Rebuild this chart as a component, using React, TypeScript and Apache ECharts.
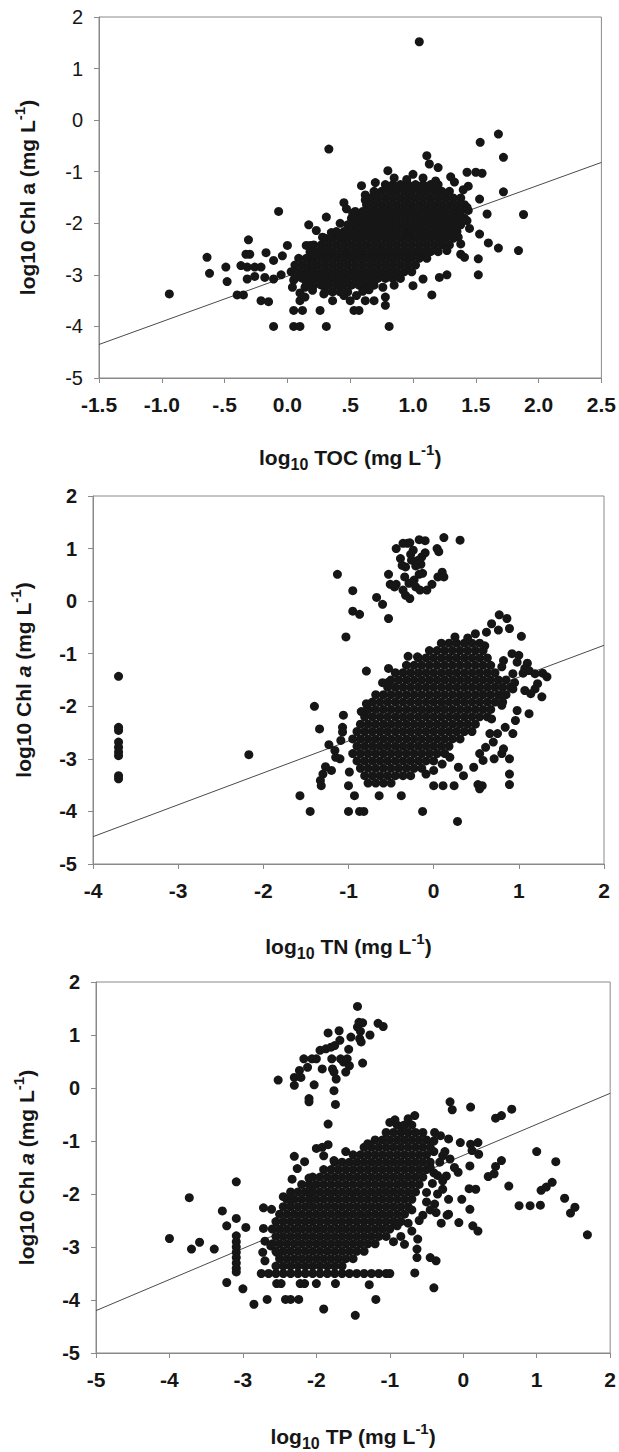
import React, { useEffect, useRef } from "react";
import * as echarts from "echarts";

type P = [number, number];
type Row = [number, number[]];

// ---------- axis tick labels ----------
const tocTickLabels = ["-1.5", "-1.0", "-.5", "0.0", ".5", "1.0", "1.5", "2.0", "2.5"];
const tnTickLabels = ["-4", "-3", "-2", "-1", "0", "1", "2"];
const tpTickLabels = ["-5", "-4", "-3", "-2", "-1", "0", "1", "2"];
const chlTickLabels = ["-5", "-4", "-3", "-2", "-1", "0", "1", "2"];

// ---------- regression lines ----------
const tocFit: P[] = [[-1.5, -4.35], [2.5, -0.82]];
const tnFit: P[] = [[-4, -4.48], [2, -0.84]];
const tpFit: P[] = [[-5, -4.2], [2, -0.1]];

// ---------- TOC panel ----------
const tocScatter: P[] = [
  [1.05, 1.52], [0.33, -0.56], [1.68, -0.27], [1.535, -0.43], [1.72, -0.72], [1.72, -1.39], [1.88, -1.83],
  [1.84, -2.53], [1.68, -2.48], [1.6, -2.38], [1.59, -1.82], [1.53, -2.21], [1.52, -2.69], [1.52, -3.0],
  [1.53, -1.53], [1.5, -1.01], [1.55, -1.03], [1.43, -1.01], [1.44, -1.28], [1.15, -3.39], [0.81, -4.0],
  [-0.07, -1.77], [-0.94, -3.37], [-0.64, -2.66], [-0.62, -2.97], [-0.49, -2.85], [-0.48, -3.13],
  [-0.4, -3.39], [-0.35, -3.39], [-0.31, -2.32], [-0.33, -2.6], [-0.3, -2.6], [-0.37, -2.82], [-0.32, -2.85],
  [-0.26, -2.85], [-0.32, -3.08], [-0.26, -3.03], [-0.21, -3.5], [-0.15, -3.52], [-0.17, -2.57],
  [-0.21, -2.85], [-0.11, -2.72], [-0.18, -3.05], [-0.11, -3.08], [-0.05, -3.0], [-0.04, -2.63],
  [0.0, -2.43], [-0.11, -4.0], [0.05, -4.0], [0.1, -4.0], [0.05, -3.69], [0.12, -3.69], [0.26, -3.69],
  [0.31, -4.0], [0.04, -3.24], [0.1, -3.35], [0.14, -3.43], [0.14, -3.24], [0.1, -3.5], [0.36, -3.5],
  [0.29, -3.37], [0.4, -3.08], [0.5, -3.5], [0.53, -3.69], [0.57, -3.69], [0.55, -3.4], [0.62, -3.5],
  [0.69, -3.5], [0.65, -3.29], [0.76, -3.24], [0.78, -3.43], [0.78, -3.59], [1.0, -3.21], [1.08, -3.08],
  [1.21, -3.05], [1.27, -3.0], [1.38, -2.6], [1.41, -2.66], [1.27, -2.53], [1.36, -2.27], [1.38, -2.4],
  [1.43, -1.95], [1.44, -1.75], [1.43, -1.69], [0.8, -0.98], [1.11, -0.69], [1.13, -0.85], [1.2, -0.92],
  [1.0, -1.05], [1.3, -1.1], [1.33, -1.2], [0.45, -1.6], [0.47, -1.72], [0.59, -1.27], [0.62, -1.45],
  [0.17, -2.03], [0.31, -1.88], [0.23, -2.14], [0.28, -2.27], [0.15, -2.43], [0.18, -2.43], [0.23, -2.6],
  [0.2, -2.79], [0.7, -1.21],
  [0.85, -1.12], [0.95, -1.15], [1.08, -1.12], [1.18, -1.18], [0.62, -1.55], [0.52, -1.8], [0.42, -2.0],
  [0.35, -2.18], [1.4, -1.35], [1.45, -2.1], [0.45, -3.4], [0.6, -3.32], [0.85, -3.2], [0.2, -3.3], [0.05, -3.1],
];
const tocCoreRows: Row[] = [
  [-1.25, [0.78, 0.84, 0.9, 0.96, 1.02, 1.08, 1.14, 1.2]],
  [-1.38, [0.69, 0.75, 0.81, 0.87, 0.93, 0.99, 1.05, 1.11, 1.17, 1.23, 1.29]],
  [-1.51, [0.66, 0.72, 0.78, 0.84, 0.9, 0.96, 1.02, 1.08, 1.14, 1.2, 1.26, 1.32, 1.38]],
  [-1.64, [0.63, 0.69, 0.75, 0.81, 0.87, 0.93, 0.99, 1.05, 1.11, 1.17, 1.23, 1.29, 1.35, 1.41]],
  [-1.77, [0.54, 0.6, 0.66, 0.72, 0.78, 0.84, 0.9, 0.96, 1.02, 1.08, 1.14, 1.2, 1.26, 1.32, 1.38]],
  [-1.9, [0.51, 0.57, 0.63, 0.69, 0.75, 0.81, 0.87, 0.93, 0.99, 1.05, 1.11, 1.17, 1.23, 1.29, 1.35, 1.41]],
  [-2.03, [0.48, 0.54, 0.6, 0.66, 0.72, 0.78, 0.84, 0.9, 0.96, 1.02, 1.08, 1.14, 1.2, 1.26, 1.32, 1.38]],
  [-2.16, [0.39, 0.45, 0.51, 0.57, 0.63, 0.69, 0.75, 0.81, 0.87, 0.93, 0.99, 1.05, 1.11, 1.17, 1.23, 1.29, 1.35]],
  [-2.29, [0.3, 0.36, 0.42, 0.48, 0.54, 0.6, 0.66, 0.72, 0.78, 0.84, 0.9, 0.96, 1.02, 1.08, 1.14, 1.2, 1.26, 1.32]],
  [-2.42, [0.21, 0.27, 0.33, 0.39, 0.45, 0.51, 0.57, 0.63, 0.69, 0.75, 0.81, 0.87, 0.93, 0.99, 1.05, 1.11, 1.17, 1.23, 1.29]],
  [-2.55, [0.18, 0.24, 0.3, 0.36, 0.42, 0.48, 0.54, 0.6, 0.66, 0.72, 0.78, 0.84, 0.9, 0.96, 1.02, 1.08, 1.14, 1.2]],
  [-2.68, [0.09, 0.15, 0.21, 0.27, 0.33, 0.39, 0.45, 0.51, 0.57, 0.63, 0.69, 0.75, 0.81, 0.87, 0.93, 0.99, 1.05, 1.11]],
  [-2.81, [0.06, 0.12, 0.18, 0.24, 0.3, 0.36, 0.42, 0.48, 0.54, 0.6, 0.66, 0.72, 0.78, 0.84, 0.9, 0.96, 1.02]],
  [-2.94, [0.03, 0.09, 0.15, 0.21, 0.27, 0.33, 0.39, 0.45, 0.51, 0.57, 0.63, 0.69, 0.75, 0.81, 0.87, 0.93, 0.99]],
  [-3.07, [0.06, 0.12, 0.18, 0.24, 0.3, 0.36, 0.42, 0.48, 0.54, 0.6, 0.66, 0.72, 0.78, 0.84, 0.9]],
  [-3.2, [0.15, 0.21, 0.27, 0.33, 0.39, 0.45, 0.51, 0.57, 0.63, 0.69]],
  [-3.33, [0.3, 0.36, 0.42, 0.48]],
];

// ---------- TN panel ----------
const tnScatter: P[] = [
  [-3.7, -1.43], [-3.7, -2.4], [-3.7, -2.46], [-3.7, -2.68], [-3.7, -2.78], [-3.7, -2.87], [-3.7, -2.94],
  [-3.7, -3.32], [-3.7, -3.38], [-2.17, -2.92],
  [-1.13, 0.51], [-0.95, 0.2], [-0.95, -0.19], [-0.87, -0.25], [-1.03, -0.68], [-0.67, 0.07], [-0.6, -0.06],
  [-0.53, -0.33], [-0.53, 0.51], [-0.51, 0.32], [-0.44, 0.32], [-0.44, 1.0], [-0.37, 0.68], [-0.36, 1.1],
  [-0.31, 1.1], [-0.28, 1.11], [-0.39, 0.81], [-0.33, 0.65], [-0.26, 0.78], [-0.34, 0.46], [-0.29, 0.34],
  [-0.36, 0.21], [-0.33, 0.11], [-0.28, 0.05], [-0.23, 0.4], [-0.21, 0.27], [-0.17, 0.51], [-0.15, 0.7],
  [-0.14, 0.84], [-0.1, 0.92], [-0.17, 1.17], [-0.1, 1.15], [-0.13, 0.53], [-0.16, 0.21], [-0.08, 0.21],
  [-0.02, 0.32], [0.05, 0.46], [0.04, 1.0], [0.06, 0.94], [0.1, 0.55], [0.12, 0.46], [0.12, 1.21],
  [0.31, 1.16], [-0.21, 0.67], [-0.24, 0.97], [-0.27, 0.89], [-0.46, 0.27], [-0.18, 0.78],
  [-1.4, -2.0], [-1.34, -2.43], [-1.23, -2.73], [-1.06, -2.17], [-1.07, -2.4], [-1.07, -2.49], [-1.09, -2.65],
  [-1.1, -3.0], [-1.16, -2.84], [-1.27, -3.15], [-1.3, -3.29], [-1.33, -3.41], [-1.32, -3.51], [-1.2, -3.22],
  [-1.15, -2.97], [-0.99, -3.25], [-1.0, -3.51], [-0.93, -3.7], [-1.57, -3.7], [-1.45, -4.0], [-1.0, -4.0],
  [-0.87, -4.0], [-0.82, -4.0], [-0.64, -3.7], [-0.38, -3.7], [-0.13, -4.0], [0.28, -4.19], [-0.79, -1.33],
  [-0.79, -1.95], [-0.79, -2.08], [-0.53, -1.28], [-0.53, -1.54], [-0.19, -1.06], [0.0, -3.51], [0.11, -3.51],
  [0.24, -3.51], [0.52, -3.49], [0.57, -3.51], [0.54, -3.57], [0.89, -3.49], [0.89, -3.29], [0.89, -3.0],
  [0.71, -3.0], [0.8, -2.9], [0.82, -2.81],
  [0.77, -0.26], [0.86, -0.33], [0.89, -0.52], [0.68, -0.43], [0.76, -0.55], [0.62, -0.59], [0.49, -0.62],
  [1.03, -0.67], [0.92, -1.0], [1.0, -1.03], [0.82, -1.13], [0.98, -1.16], [1.1, -1.18], [1.07, -1.28],
  [0.93, -1.38], [1.05, -1.37], [1.12, -1.32], [1.19, -1.38], [0.93, -1.67], [1.07, -1.7], [1.14, -1.76],
  [1.19, -1.67], [1.22, -1.57], [1.28, -1.37], [1.33, -1.44], [1.27, -1.82], [1.12, -2.14], [0.98, -2.08],
  [0.96, -2.27], [0.84, -2.4], [0.75, -2.52], [0.7, -2.68], [0.66, -2.52], [0.93, -2.52], [0.68, -2.24],
  [0.8, -1.98], [0.78, -1.79], [0.61, -2.78], [0.54, -2.9], [0.58, -3.03], [0.47, -3.16], [0.35, -3.32],
  [0.29, -3.16], [0.19, -2.97], [0.1, -3.1], [0.0, -3.22], [-0.09, -3.29],
  [0.25, -0.68], [0.4, -0.7], [0.6, -0.85], [-0.3, -1.05], [-0.6, -1.55], [-0.85, -2.1], [0.8, -1.25], [0.95, -1.55],
];
const tnCoreRows: Row[] = [
  [-0.8, [0.09, 0.18, 0.27, 0.36, 0.45, 0.54]],
  [-0.94, [-0.05, 0.04, 0.13, 0.22, 0.31, 0.4, 0.49, 0.58]],
  [-1.08, [-0.18, -0.09, 0, 0.09, 0.18, 0.27, 0.36, 0.45, 0.54, 0.63]],
  [-1.22, [-0.32, -0.23, -0.14, -0.05, 0.04, 0.13, 0.22, 0.31, 0.4, 0.49, 0.58, 0.67]],
  [-1.36, [-0.45, -0.36, -0.27, -0.18, -0.09, 0, 0.09, 0.18, 0.27, 0.36, 0.45, 0.54, 0.63, 0.72]],
  [-1.5, [-0.5, -0.41, -0.32, -0.23, -0.14, -0.05, 0.04, 0.13, 0.22, 0.31, 0.4, 0.49, 0.58, 0.67, 0.76, 0.85]],
  [-1.64, [-0.54, -0.45, -0.36, -0.27, -0.18, -0.09, 0, 0.09, 0.18, 0.27, 0.36, 0.45, 0.54, 0.63, 0.72, 0.81, 0.9]],
  [-1.78, [-0.68, -0.59, -0.5, -0.41, -0.32, -0.23, -0.14, -0.05, 0.04, 0.13, 0.22, 0.31, 0.4, 0.49, 0.58, 0.67, 0.76, 0.85]],
  [-1.92, [-0.72, -0.63, -0.54, -0.45, -0.36, -0.27, -0.18, -0.09, 0, 0.09, 0.18, 0.27, 0.36, 0.45, 0.54, 0.63, 0.72, 0.81]],
  [-2.06, [-0.77, -0.68, -0.59, -0.5, -0.41, -0.32, -0.23, -0.14, -0.05, 0.04, 0.13, 0.22, 0.31, 0.4, 0.49, 0.58, 0.67]],
  [-2.2, [-0.81, -0.72, -0.63, -0.54, -0.45, -0.36, -0.27, -0.18, -0.09, 0, 0.09, 0.18, 0.27, 0.36, 0.45, 0.54, 0.63]],
  [-2.34, [-0.86, -0.77, -0.68, -0.59, -0.5, -0.41, -0.32, -0.23, -0.14, -0.05, 0.04, 0.13, 0.22, 0.31, 0.4, 0.49]],
  [-2.48, [-0.9, -0.81, -0.72, -0.63, -0.54, -0.45, -0.36, -0.27, -0.18, -0.09, 0, 0.09, 0.18, 0.27, 0.36, 0.45]],
  [-2.62, [-0.95, -0.86, -0.77, -0.68, -0.59, -0.5, -0.41, -0.32, -0.23, -0.14, -0.05, 0.04, 0.13, 0.22, 0.31]],
  [-2.76, [-0.9, -0.81, -0.72, -0.63, -0.54, -0.45, -0.36, -0.27, -0.18, -0.09, 0, 0.09, 0.18]],
  [-2.9, [-0.95, -0.86, -0.77, -0.68, -0.59, -0.5, -0.41, -0.32, -0.23, -0.14, -0.05, 0.04, 0.13]],
  [-3.04, [-0.9, -0.81, -0.72, -0.63, -0.54, -0.45, -0.36, -0.27, -0.18, -0.09, 0]],
  [-3.18, [-0.86, -0.77, -0.68, -0.59, -0.5, -0.41, -0.32, -0.23, -0.14]],
  [-3.32, [-0.81, -0.72, -0.63, -0.54, -0.45, -0.36, -0.27]],
  [-3.46, [-0.77, -0.68, -0.59, -0.5]],
];

// ---------- TP panel ----------
const tpScatter: P[] = [
  [-4.0, -2.84], [-3.73, -2.07], [-3.7, -3.04], [-3.59, -2.91], [-3.39, -3.04], [-3.28, -2.32], [-3.22, -2.6],
  [-3.22, -3.67], [-3.09, -1.77], [-3.09, -2.46], [-3.09, -2.79], [-3.09, -2.9], [-3.09, -3.0], [-3.09, -3.1],
  [-3.09, -3.2], [-3.09, -3.3], [-3.09, -3.4], [-3.09, -3.47], [-3.0, -3.79], [-2.96, -2.63], [-2.85, -4.08],
  [-2.67, -3.99], [-2.42, -3.99], [-2.35, -3.99], [-2.24, -3.99], [-1.9, -4.17], [-1.47, -4.29], [-1.19, -3.99],
  [-1.28, -3.71], [-0.4, -3.77], [-0.37, -3.26], [-0.45, -3.2], [-0.66, -3.49], [-0.63, -3.2], [-0.63, -3.04],
  [-2.54, -3.69], [-2.48, -3.69], [-2.22, -3.69], [-2.16, -3.69], [-2.0, -3.69], [-1.74, -3.69],
  [-2.73, -3.1], [-2.7, -3.26],
  [-2.52, 0.15], [-2.3, 0.2], [-2.3, 0.05], [-2.23, 0.33], [-2.21, 0.2], [-2.17, 0.55], [-2.12, 0.39],
  [-2.06, 0.55], [-2.03, 0.06], [-2.1, -0.2], [-2.1, -0.26], [-2.0, 0.55], [-1.95, 0.71], [-1.92, 0.36],
  [-1.87, 0.74], [-1.84, 1.04], [-1.8, 0.77], [-1.79, 0.55], [-1.78, 0.36], [-1.76, 0.3], [-1.76, -0.05],
  [-1.74, -0.31], [-1.73, 0.17], [-1.69, 1.08], [-1.68, 0.9], [-1.75, 0.8], [-1.67, 0.55], [-1.63, 0.49],
  [-1.6, 0.3], [-1.56, 0.73], [-1.55, 0.42], [-1.58, 0.55], [-1.44, 1.54], [-1.44, 1.15], [-1.42, 1.24],
  [-1.4, 1.07], [-1.39, 0.87], [-1.37, 1.23], [-1.41, 0.93], [-1.27, 1.0], [-1.37, 0.47], [-1.16, 1.22],
  [-1.09, 1.16], [-1.53, 0.96],
  [-1.84, -0.68], [-1.84, -1.07], [-2.0, -1.14], [-2.16, -1.39], [-2.3, -1.29], [-2.26, -1.52], [-2.33, -1.72],
  [-1.9, -1.28], [-1.76, -1.37], [-2.06, -1.85], [-2.09, -2.1], [-2.33, -2.1], [-2.61, -2.29], [-2.72, -2.26],
  [-2.72, -2.65], [-2.7, -2.89], [-2.62, -2.98], [-2.54, -3.1], [-1.92, -1.12],
  [-0.18, -0.26], [-0.15, -0.41], [0.1, -0.36], [0.44, -0.57], [0.52, -0.52], [0.66, -0.4], [-0.2, -0.96],
  [-0.04, -1.03], [0.1, -1.06], [0.2, -1.03], [0.12, -1.18], [0.21, -1.25], [0.09, -1.47], [-0.07, -1.59],
  [-0.23, -1.66], [-0.12, -1.5], [0.44, -1.48], [0.52, -1.37], [0.34, -1.67], [0.42, -1.62], [0.17, -1.91],
  [0.08, -1.9], [-0.02, -2.1], [0.09, -2.29], [0.13, -2.6], [0.2, -2.7], [-0.06, -2.54], [-0.2, -2.38],
  [-0.2, -2.1], [-0.37, -2.35], [-0.39, -2.19], [-0.5, -1.97], [-0.28, -1.91], [-0.28, -1.75], [-0.18, -1.34],
  [-0.28, -1.28], [-0.39, -0.84], [-0.31, -0.9],
  [0.62, -1.85], [0.76, -2.22], [0.91, -2.22], [1.0, -1.2], [1.06, -1.93], [1.13, -1.87], [1.21, -1.78],
  [1.26, -1.39], [1.38, -2.08], [1.46, -2.36], [1.52, -2.25], [1.69, -2.77], [1.05, -2.21],
  [-0.9, -2.6], [-0.85, -2.8], [-0.75, -2.55], [-0.7, -2.3], [-0.6, -2.5], [-0.55, -2.4], [-0.8, -2.95],
  [-0.95, -2.9], [-0.62, -2.85], [-0.7, -2.7], [-0.45, -1.5], [-0.4, -1.2], [-0.35, -1.65], [-0.32, -1.4],
  [-0.42, -1.8], [-0.35, -2.0], [-0.25, -1.2], [-0.22, -2.4], [-0.3, -2.55], [-0.45, -2.3], [-0.5, -2.15],
  [-0.93, -0.6], [-0.66, -0.52], [-0.82, -0.71],
  [-1.0, -0.65], [-0.75, -0.58], [-1.3, -1.05], [-1.6, -1.2], [-2.1, -1.7], [-2.45, -2.05], [-0.4, -1.0], [-0.4, -1.6],
];
const tpCoreRows: Row[] = [
  [-0.7, [-0.9, -0.8, -0.7]],
  [-0.84, [-1.05, -0.95, -0.85, -0.75, -0.65, -0.55]],
  [-0.98, [-1.2, -1.1, -1.0, -0.9, -0.8, -0.7, -0.6, -0.5]],
  [-1.12, [-1.35, -1.25, -1.15, -1.05, -0.95, -0.85, -0.75, -0.65, -0.55, -0.45]],
  [-1.26, [-1.5, -1.4, -1.3, -1.2, -1.1, -1.0, -0.9, -0.8, -0.7, -0.6, -0.5]],
  [-1.4, [-1.75, -1.65, -1.55, -1.45, -1.35, -1.25, -1.15, -1.05, -0.95, -0.85, -0.75, -0.65, -0.55, -0.45]],
  [-1.54, [-1.9, -1.8, -1.7, -1.6, -1.5, -1.4, -1.3, -1.2, -1.1, -1.0, -0.9, -0.8, -0.7, -0.6, -0.5]],
  [-1.68, [-2.05, -1.95, -1.85, -1.75, -1.65, -1.55, -1.45, -1.35, -1.25, -1.15, -1.05, -0.95, -0.85, -0.75, -0.65, -0.55]],
  [-1.82, [-2.2, -2.1, -2.0, -1.9, -1.8, -1.7, -1.6, -1.5, -1.4, -1.3, -1.2, -1.1, -1.0, -0.9, -0.8, -0.7, -0.6]],
  [-1.96, [-2.35, -2.25, -2.15, -2.05, -1.95, -1.85, -1.75, -1.65, -1.55, -1.45, -1.35, -1.25, -1.15, -1.05, -0.95, -0.85, -0.75, -0.65]],
  [-2.1, [-2.4, -2.3, -2.2, -2.1, -2.0, -1.9, -1.8, -1.7, -1.6, -1.5, -1.4, -1.3, -1.2, -1.1, -1.0, -0.9, -0.8, -0.7]],
  [-2.24, [-2.45, -2.35, -2.25, -2.15, -2.05, -1.95, -1.85, -1.75, -1.65, -1.55, -1.45, -1.35, -1.25, -1.15, -1.05, -0.95, -0.85, -0.75]],
  [-2.38, [-2.5, -2.4, -2.3, -2.2, -2.1, -2.0, -1.9, -1.8, -1.7, -1.6, -1.5, -1.4, -1.3, -1.2, -1.1, -1.0, -0.9, -0.8]],
  [-2.52, [-2.55, -2.45, -2.35, -2.25, -2.15, -2.05, -1.95, -1.85, -1.75, -1.65, -1.55, -1.45, -1.35, -1.25, -1.15, -1.05, -0.95, -0.85]],
  [-2.66, [-2.6, -2.5, -2.4, -2.3, -2.2, -2.1, -2.0, -1.9, -1.8, -1.7, -1.6, -1.5, -1.4, -1.3, -1.2, -1.1, -1.0]],
  [-2.8, [-2.55, -2.45, -2.35, -2.25, -2.15, -2.05, -1.95, -1.85, -1.75, -1.65, -1.55, -1.45, -1.35, -1.25, -1.15, -1.05]],
  [-2.94, [-2.6, -2.5, -2.4, -2.3, -2.2, -2.1, -2.0, -1.9, -1.8, -1.7, -1.6, -1.5, -1.4, -1.3, -1.2]],
  [-3.08, [-2.55, -2.45, -2.35, -2.25, -2.15, -2.05, -1.95, -1.85, -1.75, -1.65, -1.55, -1.45, -1.35]],
  [-3.22, [-2.5, -2.4, -2.3, -2.2, -2.1, -2.0, -1.9, -1.8, -1.7, -1.6, -1.5]],
  [-3.36, [-2.55, -2.45, -2.35, -2.25, -2.15, -2.05, -1.95, -1.85, -1.75, -1.65]],
  [-3.5, [-2.75, -2.65, -2.55, -2.45, -2.35, -2.25, -2.15, -2.05, -1.95, -1.85, -1.75, -1.65, -1.55, -1.45, -1.35, -1.25, -1.15, -1.05, -1.0]],
];

const FONT = '"Liberation Sans", Arial, Helvetica, sans-serif';
const INK = "#161616";
const AXIS = "#8a8a8a";

function rowsToPoints(rows: Row[]): P[] {
  const out: P[] = [];
  rows.forEach(([y, xs]) => xs.forEach((x) => out.push([x, y])));
  return out;
}

const titleRich = {
  b: { fontSize: 21, fontWeight: "bold", fontFamily: FONT, color: INK, lineHeight: 30 },
  i: { fontSize: 21, fontWeight: "bold", fontStyle: "italic", fontFamily: FONT, color: INK, lineHeight: 30 },
  s: { fontSize: 16, fontWeight: "bold", fontFamily: FONT, color: INK, lineHeight: 16, verticalAlign: "bottom" },
  p: { fontSize: 15, fontWeight: "bold", fontFamily: FONT, color: INK, lineHeight: 15, verticalAlign: "top" },
};

export default function App() {
  const ref = useRef<HTMLDivElement>(null);
  useEffect(() => {
    if (!ref.current) return;
    const chart = echarts.init(ref.current, undefined, { renderer: "svg" });

    const grids = [
      { left: 99, top: 17, width: 503, height: 361 },
      { left: 93, top: 496, width: 511, height: 368 },
      { left: 96, top: 982, width: 515, height: 371 },
    ];

    const xCfg = (gi: number, min: number, max: number, interval: number, labels: string[], name: string, gap: number) => ({
      type: "value",
      gridIndex: gi,
      min,
      max,
      interval,
      name,
      nameLocation: "middle",
      nameGap: gap,
      nameTextStyle: { rich: titleRich },
      axisLine: { show: true, onZero: false, lineStyle: { color: AXIS, width: 1 } },
      axisTick: { show: true, inside: false, length: 5, lineStyle: { color: AXIS } },
      axisLabel: {
        margin: 16,
        fontSize: 21,
        fontWeight: "bold",
        fontFamily: FONT,
        color: INK,
        showMinLabel: true,
        showMaxLabel: true,
        formatter: (_v: number, idx: number) => labels[idx] ?? "",
      },
      splitLine: { show: false },
    });

    const yCfg = (gi: number, bold: boolean, name: string, gap: number) => ({
      type: "value",
      gridIndex: gi,
      min: -5,
      max: 2,
      interval: 1,
      name,
      nameLocation: "middle",
      nameRotate: 90,
      nameGap: gap,
      nameTextStyle: { rich: titleRich },
      axisLine: { show: true, onZero: false, lineStyle: { color: AXIS, width: 1 } },
      axisTick: { show: true, inside: false, length: 5, lineStyle: { color: AXIS } },
      axisLabel: {
        margin: 16,
        fontSize: 20,
        fontWeight: bold ? "bold" : "normal",
        fontFamily: FONT,
        color: INK,
        formatter: (_v: number, idx: number) => chlTickLabels[idx] ?? "",
      },
      splitLine: { show: false },
    });

    const yNamePlain = "{b|log10 Chl a (mg L}{p|-1}{b|)}";
    const yNameItalic = "{b|log10 Chl }{i|a}{b| (mg L}{p|-1}{b|)}";

    const fitSeries = (gi: number, data: P[]) => ({
      type: "line",
      xAxisIndex: gi,
      yAxisIndex: gi,
      data,
      symbol: "none",
      lineStyle: { color: "#4a4a4a", width: 1 },
      z: 2,
      silent: true,
    });
    const dotSeries = (gi: number, data: P[]) => ({
      type: "scatter",
      xAxisIndex: gi,
      yAxisIndex: gi,
      data,
      symbol: "circle",
      symbolSize: 9,
      itemStyle: { color: INK, opacity: 1 },
      z: 3,
      silent: true,
    });

    chart.setOption({
      animation: false,
      backgroundColor: "#ffffff",
      grid: grids.map((g) => ({ ...g, show: true, borderColor: AXIS, borderWidth: 1, backgroundColor: "transparent", containLabel: false })),
      xAxis: [
        xCfg(0, -1.5, 2.5, 0.5, tocTickLabels, "{b|log}{s|10}{b| TOC (mg L}{p|-1}{b|)}", 64),
        xCfg(1, -4, 2, 1, tnTickLabels, "{b|log}{s|10}{b| TN (mg L}{p|-1}{b|)}", 67),
        xCfg(2, -5, 2, 1, tpTickLabels, "{b|log}{s|10}{b| TP (mg L}{p|-1}{b|)}", 68),
      ],
      yAxis: [yCfg(0, false, yNamePlain, 57), yCfg(1, true, yNameItalic, 55), yCfg(2, true, yNameItalic, 55)],
      series: [
        fitSeries(0, tocFit),
        dotSeries(0, [...rowsToPoints(tocCoreRows), ...tocScatter]),
        fitSeries(1, tnFit),
        dotSeries(1, [...rowsToPoints(tnCoreRows), ...tnScatter]),
        fitSeries(2, tpFit),
        dotSeries(2, [...rowsToPoints(tpCoreRows), ...tpScatter]),
      ],
    });
    return () => chart.dispose();
  }, []);

  return (
    <div
      ref={ref}
      style={{ position: "absolute", left: 0, top: 0, width: 619, height: 1452, background: "#fff" }}
    />
  );
}
